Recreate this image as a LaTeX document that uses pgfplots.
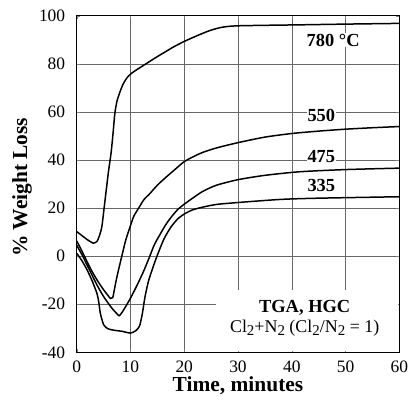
\documentclass[border=0pt]{standalone}
\usepackage{fontspec}
\setmainfont{Liberation Serif}
\usepackage{pgfplots}
\pgfplotsset{compat=1.18}
\newcommand{\sub}[1]{\raisebox{-0.3ex}{\fontsize{15}{15}\selectfont #1}}
\begin{document}
\begin{tikzpicture}
\useasboundingbox (-76.7bp,-53.7bp) rectangle (332.3bp,352.3bp);
\begin{axis}[
  scale only axis, width=322.6bp, height=336.6bp,
  at={(0,0)}, anchor=south west,
  xmin=0, xmax=60, ymin=-40, ymax=100,
  xtick={0,10,20,30,40,50,60}, ytick={-40,-20,0,20,40,60,80,100},
  xmajorgrids=true, ymajorgrids=true,
  major grid style={draw=black!60, line width=0.5pt},
  axis line style={line width=1pt},
  major tick length=3bp,
  tick label style={font=\fontsize{17.5}{20}\selectfont},
  /pgf/number format/assume math mode=true,
  yticklabel style={xshift=-8bp},
  xticklabel style={yshift=-5bp},
  label style={font=\fontsize{21.5}{24}\selectfont\bfseries},
  xlabel={Time, minutes}, ylabel={\% Weight Loss},
  xlabel style={at={(axis description cs:0.5,-0.117)}, anchor=base},
  ylabel style={at={(axis description cs:-0.154,0.49)}, anchor=base},
]
% 780 C
\addplot[black, line width=1.5pt, smooth, tension=0.4] coordinates {(0,10.2)(1,8.5)(2,6.8)(3.1,5.4)(3.8,6.2)(4.3,9)(4.7,12.6)(5.3,23.8)(5.9,35)(6.4,43)(6.8,52)(7.1,59.5)(7.5,64.5)(8,68)(8.6,71.4)(9.3,74)(10,75.7)(11,77.3)(12.9,80)(14.5,82.3)(16.5,85)(18,87)(20,89.3)(22,91.3)(23.8,93)(25,94)(26.6,95)(28,95.5)(30,95.8)(35,96)(41.5,96.2)(50,96.5)(60,96.8)};
% 550
\addplot[black, line width=1.5pt, smooth, tension=0.4] coordinates {(0,6.3)(1,2)(2.5,-4.9)(3.75,-9.8)(5,-14)(5.8,-16.3)(6.25,-17.6)(6.7,-17.3)(7,-14)(7.4,-9.5)(7.8,-5.5)(8.5,1)(9.1,6.5)(9.9,12)(10.6,16.5)(11.8,21)(12.5,23.5)(13.6,26)(15,29.5)(16.7,33)(18,35.5)(20,39.3)(22,41.7)(23.5,43.2)(26,45)(30,47.2)(35,49.5)(40,51)(45,52)(50,52.8)(55,53.4)(60,53.9)};
% 475
\addplot[black, line width=1.5pt, smooth, tension=0.4] coordinates {(0,4.5)(1,0.5)(2.5,-6.3)(3.75,-11.9)(5,-16.8)(6.5,-21.5)(7.5,-24)(7.9,-24.8)(8.4,-23.5)(9.1,-21)(10,-17.5)(11.25,-12)(12.5,-6)(13.6,0)(14.5,5)(16.4,12.5)(17.5,16)(18.75,19.3)(20,21.6)(22,24.8)(23.5,27)(26,29.5)(30,31.8)(35,33.6)(41.5,35.1)(50,36)(60,36.6)};
% 335
\addplot[black, line width=1.5pt, smooth, tension=0.4] coordinates {(0,1.2)(1,-2)(1.9,-5.6)(2.5,-8.4)(3,-11)(3.75,-15.4)(4.1,-19)(4.4,-23.8)(5,-28.5)(5.8,-30.2)(6.9,-30.8)(8.5,-31.3)(10,-32)(11,-31)(11.7,-29)(12.2,-24)(12.7,-17)(13.4,-10)(14.7,-1.4)(16.2,7)(17.5,12)(18.75,15.4)(20,17.5)(21.5,19.2)(23.5,20.4)(26,21.5)(30,22.3)(38,23.6)(45,24.1)(60,24.7)};
\fill[white] (axis cs:26,-39.6) rectangle (axis cs:59.7,-14);
\begin{scope}[every node/.style={fill=white, inner sep=1pt, font=\fontsize{18.5}{20}\selectfont\bfseries}]
\node at (axis cs:47.7,89.9) {780 °C};
\node at (axis cs:45.5,58.3) {550};
\node at (axis cs:45.5,41.4) {475};
\node at (axis cs:45.5,29.2) {335};
\end{scope}
\node[font=\fontsize{18.5}{20}\selectfont\bfseries, inner sep=0pt] at (axis cs:42.4,-21.6) {TGA, HGC};
\node[font=\fontsize{18}{20}\selectfont, inner sep=0pt] at (axis cs:42.4,-30) {Cl\sub{2}+N\sub{2} (Cl\sub{2}/N\sub{2} = 1)};
\end{axis}
\end{tikzpicture}
\end{document}
